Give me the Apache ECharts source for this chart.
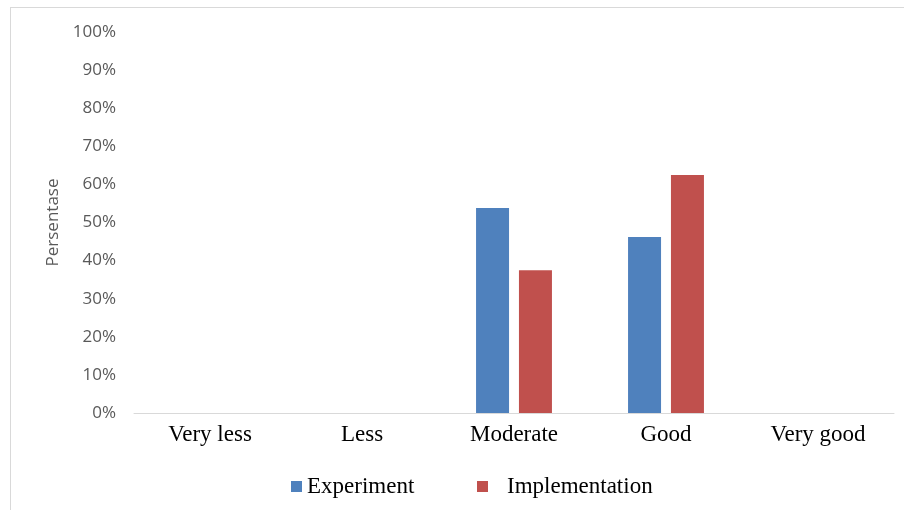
<!DOCTYPE html>
<html>
<head>
<meta charset="utf-8">
<script src="https://cdn.jsdelivr.net/npm/echarts@6/dist/echarts.min.js"></script>
<style>
  html, body { margin: 0; padding: 0; background: #ffffff; }
  #chart { width: 904px; height: 510px; }
</style>
</head>
<body>
<div id="chart"></div>
<script>
// Rating categories and percentage of respondents per group
const categories = ['Very less', 'Less', 'Moderate', 'Good', 'Very good'];
const experimentValues = [0, 0, 53.8, 46.2, 0];
const implementationValues = [0, 0, 37.5, 62.5, 0];
const seriesNames = ['Experiment', 'Implementation'];
const yAxisTitle = 'Persentase';

const serif = '"Liberation Serif", "Times New Roman", serif';
const sans = '"Open Sans", "Noto Sans", sans-serif';

const chart = echarts.init(document.getElementById('chart'), null, { renderer: 'canvas' });

chart.setOption({
  animation: false,
  backgroundColor: '#ffffff',
  grid: { left: 134, right: 10, top: 32, bottom: 97, containLabel: false },
  graphic: [
    // frame lines along the top and left edge
    { type: 'line', shape: { x1: 10, y1: 7.5, x2: 904, y2: 7.5 }, style: { stroke: '#d9d9d9', lineWidth: 1 } },
    { type: 'line', shape: { x1: 10.5, y1: 7, x2: 10.5, y2: 510 }, style: { stroke: '#d9d9d9', lineWidth: 1 } }
  ],
  legend: [
    {
      data: [seriesNames[0]],
      left: 286, top: 470,
      itemWidth: 11, itemHeight: 11,
      icon: 'rect',
      textStyle: { fontFamily: serif, fontSize: 23, color: '#000000' }
    },
    {
      data: [seriesNames[1]],
      left: 472, top: 470,
      itemWidth: 11, itemHeight: 11,
      icon: 'rect',
      textStyle: { fontFamily: serif, fontSize: 23, color: '#000000', padding: [0, 0, 0, 14] }
    }
  ],
  xAxis: {
    type: 'category',
    data: categories,
    axisLine: { show: true, lineStyle: { color: '#d9d9d9', width: 1 } },
    axisTick: { show: false },
    axisLabel: { fontFamily: serif, fontSize: 23, color: '#000000', margin: 10 }
  },
  yAxis: {
    type: 'value',
    min: 0, max: 100, interval: 10,
    name: yAxisTitle,
    nameLocation: 'middle',
    nameGap: 68,
    nameTextStyle: { fontFamily: sans, fontSize: 17, color: '#595959' },
    axisLine: { show: false },
    axisTick: { show: false },
    splitLine: { show: false },
    axisLabel: { formatter: '{value}%', fontFamily: sans, fontSize: 17, color: '#595959', margin: 18 }
  },
  series: [
    {
      name: seriesNames[0], type: 'bar', data: experimentValues,
      barWidth: 33, barGap: '30%',
      itemStyle: { color: '#4f81bd' }
    },
    {
      name: seriesNames[1], type: 'bar', data: implementationValues,
      barWidth: 33, barGap: '30%',
      itemStyle: { color: '#c0504d' }
    }
  ]
});
</script>
</body>
</html>
